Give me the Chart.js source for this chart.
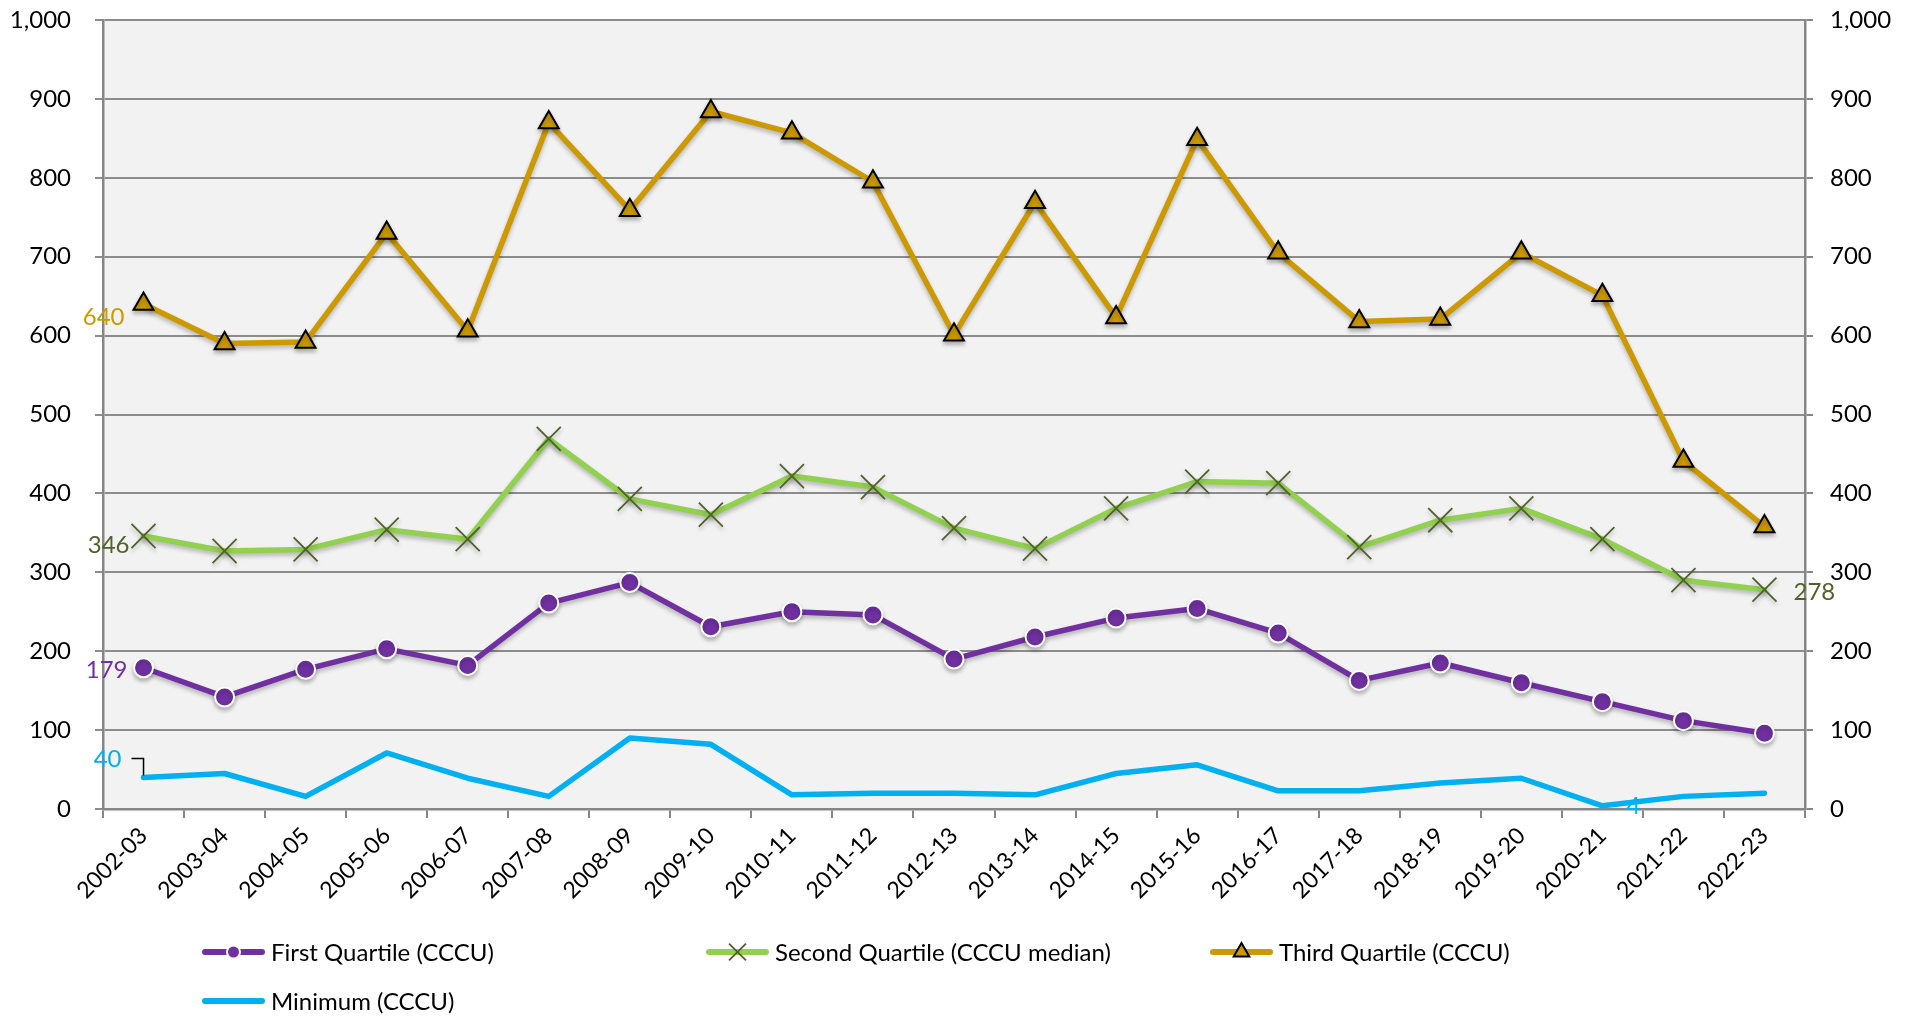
<!DOCTYPE html>
<html>
<head>
<meta charset="utf-8">
<title>CCCU quartiles</title>
<script src="https://cdn.jsdelivr.net/npm/chart.js@4.4.1/dist/chart.umd.min.js"></script>
<style>
  html, body { margin: 0; padding: 0; background: #fff; }
  #wrap { width: 1911px; height: 1016px; }
</style>
</head>
<body>
<div id="wrap"><canvas id="chart" width="1911" height="1016"></canvas></div>
<script>
// Academic years on the category axis
const years = ['2002-03', '2003-04', '2004-05', '2005-06', '2006-07', '2007-08', '2008-09',
  '2009-10', '2010-11', '2011-12', '2012-13', '2013-14', '2014-15', '2015-16', '2016-17',
  '2017-18', '2018-19', '2019-20', '2020-21', '2021-22', '2022-23'];

// Values
const firstQuartile = [179, 142, 177, 203, 182, 261, 287, 231, 250, 246, 190, 218, 242, 254, 223, 163, 185, 160, 136, 112, 96];
const secondQuartile = [346, 327, 329, 354, 342, 469, 393, 373, 422, 408, 356, 330, 381, 415, 413, 332, 366, 381, 342, 290, 278];
const thirdQuartile = [640, 590, 592, 730, 606, 870, 759, 884, 857, 795, 601, 769, 623, 849, 705, 618, 621, 705, 651, 441, 358];
const minimum = [40, 45, 16, 71, 39, 16, 90, 82, 18, 20, 20, 18, 45, 56, 23, 23, 33, 39, 4, 16, 20];

const yMin = 0;
const yMax = 1000;
const yStep = 100;

const FONT = 'Lato, "Open Sans", sans-serif';
const PURPLE = '#7030A0';
const GREEN = '#92D050';
const OLIVE = '#4F6228';
const GOLD = '#CC9900';
const CYAN = '#00B0F0';
const GRID = '#8c8c8c';
const AXIS = '#868686';

// Grey plot area behind the lines
const plotBackground = {
    id: 'plotBackground',
    beforeDraw(chart) {
        const { ctx, chartArea } = chart;
        ctx.save();
        ctx.fillStyle = '#f2f2f2';
        ctx.fillRect(chartArea.left, chartArea.top, chartArea.right - chartArea.left, chartArea.bottom - chartArea.top);
        ctx.restore();
    }
};

// Soft drop shadow under the marker series
const markerShadow = {
    id: 'markerShadow',
    beforeDatasetDraw(chart, args) {
        if (args.index === 3) return;
        const ctx = chart.ctx;
        ctx.save();
        ctx.shadowColor = 'rgba(0,0,0,0.25)';
        ctx.shadowBlur = 4;
        ctx.shadowOffsetY = 3;
    },
    afterDatasetDraw(chart, args) {
        if (args.index === 3) return;
        chart.ctx.restore();
    }
};

// The few value labels shown on the chart
const valueLabels = [
    { dataset: 2, index: 0, side: 'left', color: GOLD, dx: -19, dy: 13 },
    { dataset: 1, index: 0, side: 'left', color: OLIVE, dx: -14, dy: 9 },
    { dataset: 0, index: 0, side: 'left', color: PURPLE, dx: -16, dy: 2 },
    { dataset: 3, index: 0, side: 'leader', color: CYAN, dx: -22, dy: -18 },
    { dataset: 3, index: 18, side: 'right', color: CYAN, dx: 24, dy: 0 },
    { dataset: 1, index: 20, side: 'right', color: OLIVE, dx: 29, dy: 3 }
];

const pointLabels = {
    id: 'pointLabels',
    afterDatasetsDraw(chart) {
        const ctx = chart.ctx;
        ctx.save();
        ctx.font = '24px ' + FONT;
        ctx.textBaseline = 'middle';
        valueLabels.forEach(lbl => {
            const pt = chart.getDatasetMeta(lbl.dataset).data[lbl.index];
            const value = chart.data.datasets[lbl.dataset].data[lbl.index];
            ctx.fillStyle = lbl.color;
            ctx.textAlign = lbl.side === 'right' ? 'left' : 'right';
            ctx.fillText(String(value), pt.x + lbl.dx, pt.y + lbl.dy);
            if (lbl.side === 'leader') {
                // small elbow line from the label down to the point
                ctx.strokeStyle = '#000';
                ctx.lineWidth = 1.5;
                ctx.beginPath();
                ctx.moveTo(pt.x - 12, pt.y - 19);
                ctx.lineTo(pt.x, pt.y - 19);
                ctx.lineTo(pt.x, pt.y - 2);
                ctx.stroke();
            }
        });
        ctx.restore();
    }
};

// Legend laid out like the original: three on the first row, one below
const legendSlots = [[205, 952], [709, 952], [1213, 952], [205, 1001]];

const bottomLegend = {
    id: 'bottomLegend',
    afterDraw(chart) {
        const ctx = chart.ctx;
        ctx.save();
        chart.data.datasets.forEach((ds, i) => {
            const [x, y] = legendSlots[i];
            ctx.strokeStyle = ds.borderColor;
            ctx.lineWidth = 6;
            ctx.lineCap = 'round';
            ctx.beginPath();
            ctx.moveTo(x, y);
            ctx.lineTo(x + 57, y);
            ctx.stroke();
            if (ds.pointRadius > 0) {
                ctx.fillStyle = ds.pointBackgroundColor;
                ctx.strokeStyle = ds.pointBorderColor;
                ctx.lineWidth = ds.pointBorderWidth;
                ctx.lineCap = 'butt';
                Chart.helpers.drawPoint(ctx, {
                    pointStyle: ds.pointStyle,
                    radius: ds.legendRadius,
                    borderWidth: ds.pointBorderWidth,
                    rotation: 0
                }, x + 28.5, y);
            }
            ctx.fillStyle = '#000';
            ctx.font = '24px ' + FONT;
            ctx.textAlign = 'left';
            ctx.textBaseline = 'middle';
            ctx.fillText(ds.label, x + 66, y + 1);
        });
        ctx.restore();
    }
};

// y axes: fixed widths, and don't let the label padding push the plot down
function fitYAxis(width) {
    return scale => {
        scale.width = width;
        scale.paddingTop = 20;
        scale.paddingBottom = 0;
    };
}

const ctx = document.getElementById('chart').getContext('2d');

new Chart(ctx, {
    type: 'line',
    data: {
        labels: years,
        datasets: [{
            label: 'First Quartile (CCCU)',
            data: firstQuartile,
            borderColor: PURPLE,
            borderWidth: 5.5,
            pointStyle: 'circle',
            pointRadius: 9.5,
            legendRadius: 6.5,
            pointBackgroundColor: PURPLE,
            pointBorderColor: '#ffffff',
            pointBorderWidth: 2
        }, {
            label: 'Second Quartile (CCCU median)',
            data: secondQuartile,
            borderColor: GREEN,
            borderWidth: 5.5,
            pointStyle: 'crossRot',
            pointRadius: 17,
            legendRadius: 12,
            pointBackgroundColor: OLIVE,
            pointBorderColor: OLIVE,
            pointBorderWidth: 1.8
        }, {
            label: 'Third Quartile (CCCU)',
            data: thirdQuartile,
            borderColor: GOLD,
            borderWidth: 5.5,
            pointStyle: 'triangle',
            pointRadius: 11.5,
            legendRadius: 9,
            pointBackgroundColor: GOLD,
            pointBorderColor: '#000000',
            pointBorderWidth: 2
        }, {
            label: 'Minimum (CCCU)',
            data: minimum,
            borderColor: CYAN,
            borderWidth: 5.5,
            pointRadius: 0,
            pointBorderWidth: 0
        }]
    },
    options: {
        responsive: false,
        animation: false,
        events: [],
        devicePixelRatio: 1,
        layout: { padding: { top: 0, bottom: 87, left: 0, right: 0 } },
        elements: { line: { tension: 0, borderCapStyle: 'round', borderJoinStyle: 'round' } },
        plugins: {
            legend: { display: false },
            tooltip: { enabled: false }
        },
        scales: {
            x: {
                offset: true,
                grid: {
                    offset: true,
                    drawOnChartArea: false,
                    drawTicks: true,
                    tickLength: 9,
                    color: AXIS,
                    lineWidth: 2
                },
                border: { color: AXIS, width: 2.5 },
                ticks: {
                    color: '#000',
                    font: { family: FONT, size: 23 },
                    minRotation: 45,
                    maxRotation: 45,
                    autoSkip: false,
                    padding: 4
                },
                afterFit: scale => { scale.height = 120; }
            },
            y: {
                position: 'left',
                min: yMin,
                max: yMax,
                ticks: {
                    stepSize: yStep,
                    color: '#000',
                    font: { family: FONT, size: 24 },
                    padding: 24
                },
                grid: { color: GRID, lineWidth: 2, tickLength: 8 },
                border: { color: AXIS, width: 2.5 },
                afterFit: fitYAxis(103)
            },
            y1: {
                position: 'right',
                min: yMin,
                max: yMax,
                ticks: {
                    stepSize: yStep,
                    color: '#000',
                    font: { family: FONT, size: 24 },
                    padding: 17
                },
                grid: { drawOnChartArea: false, color: AXIS, lineWidth: 2, tickLength: 8 },
                border: { color: AXIS, width: 2.5 },
                afterFit: fitYAxis(106)
            }
        }
    },
    plugins: [plotBackground, markerShadow, pointLabels, bottomLegend]
});
</script>
</body>
</html>
